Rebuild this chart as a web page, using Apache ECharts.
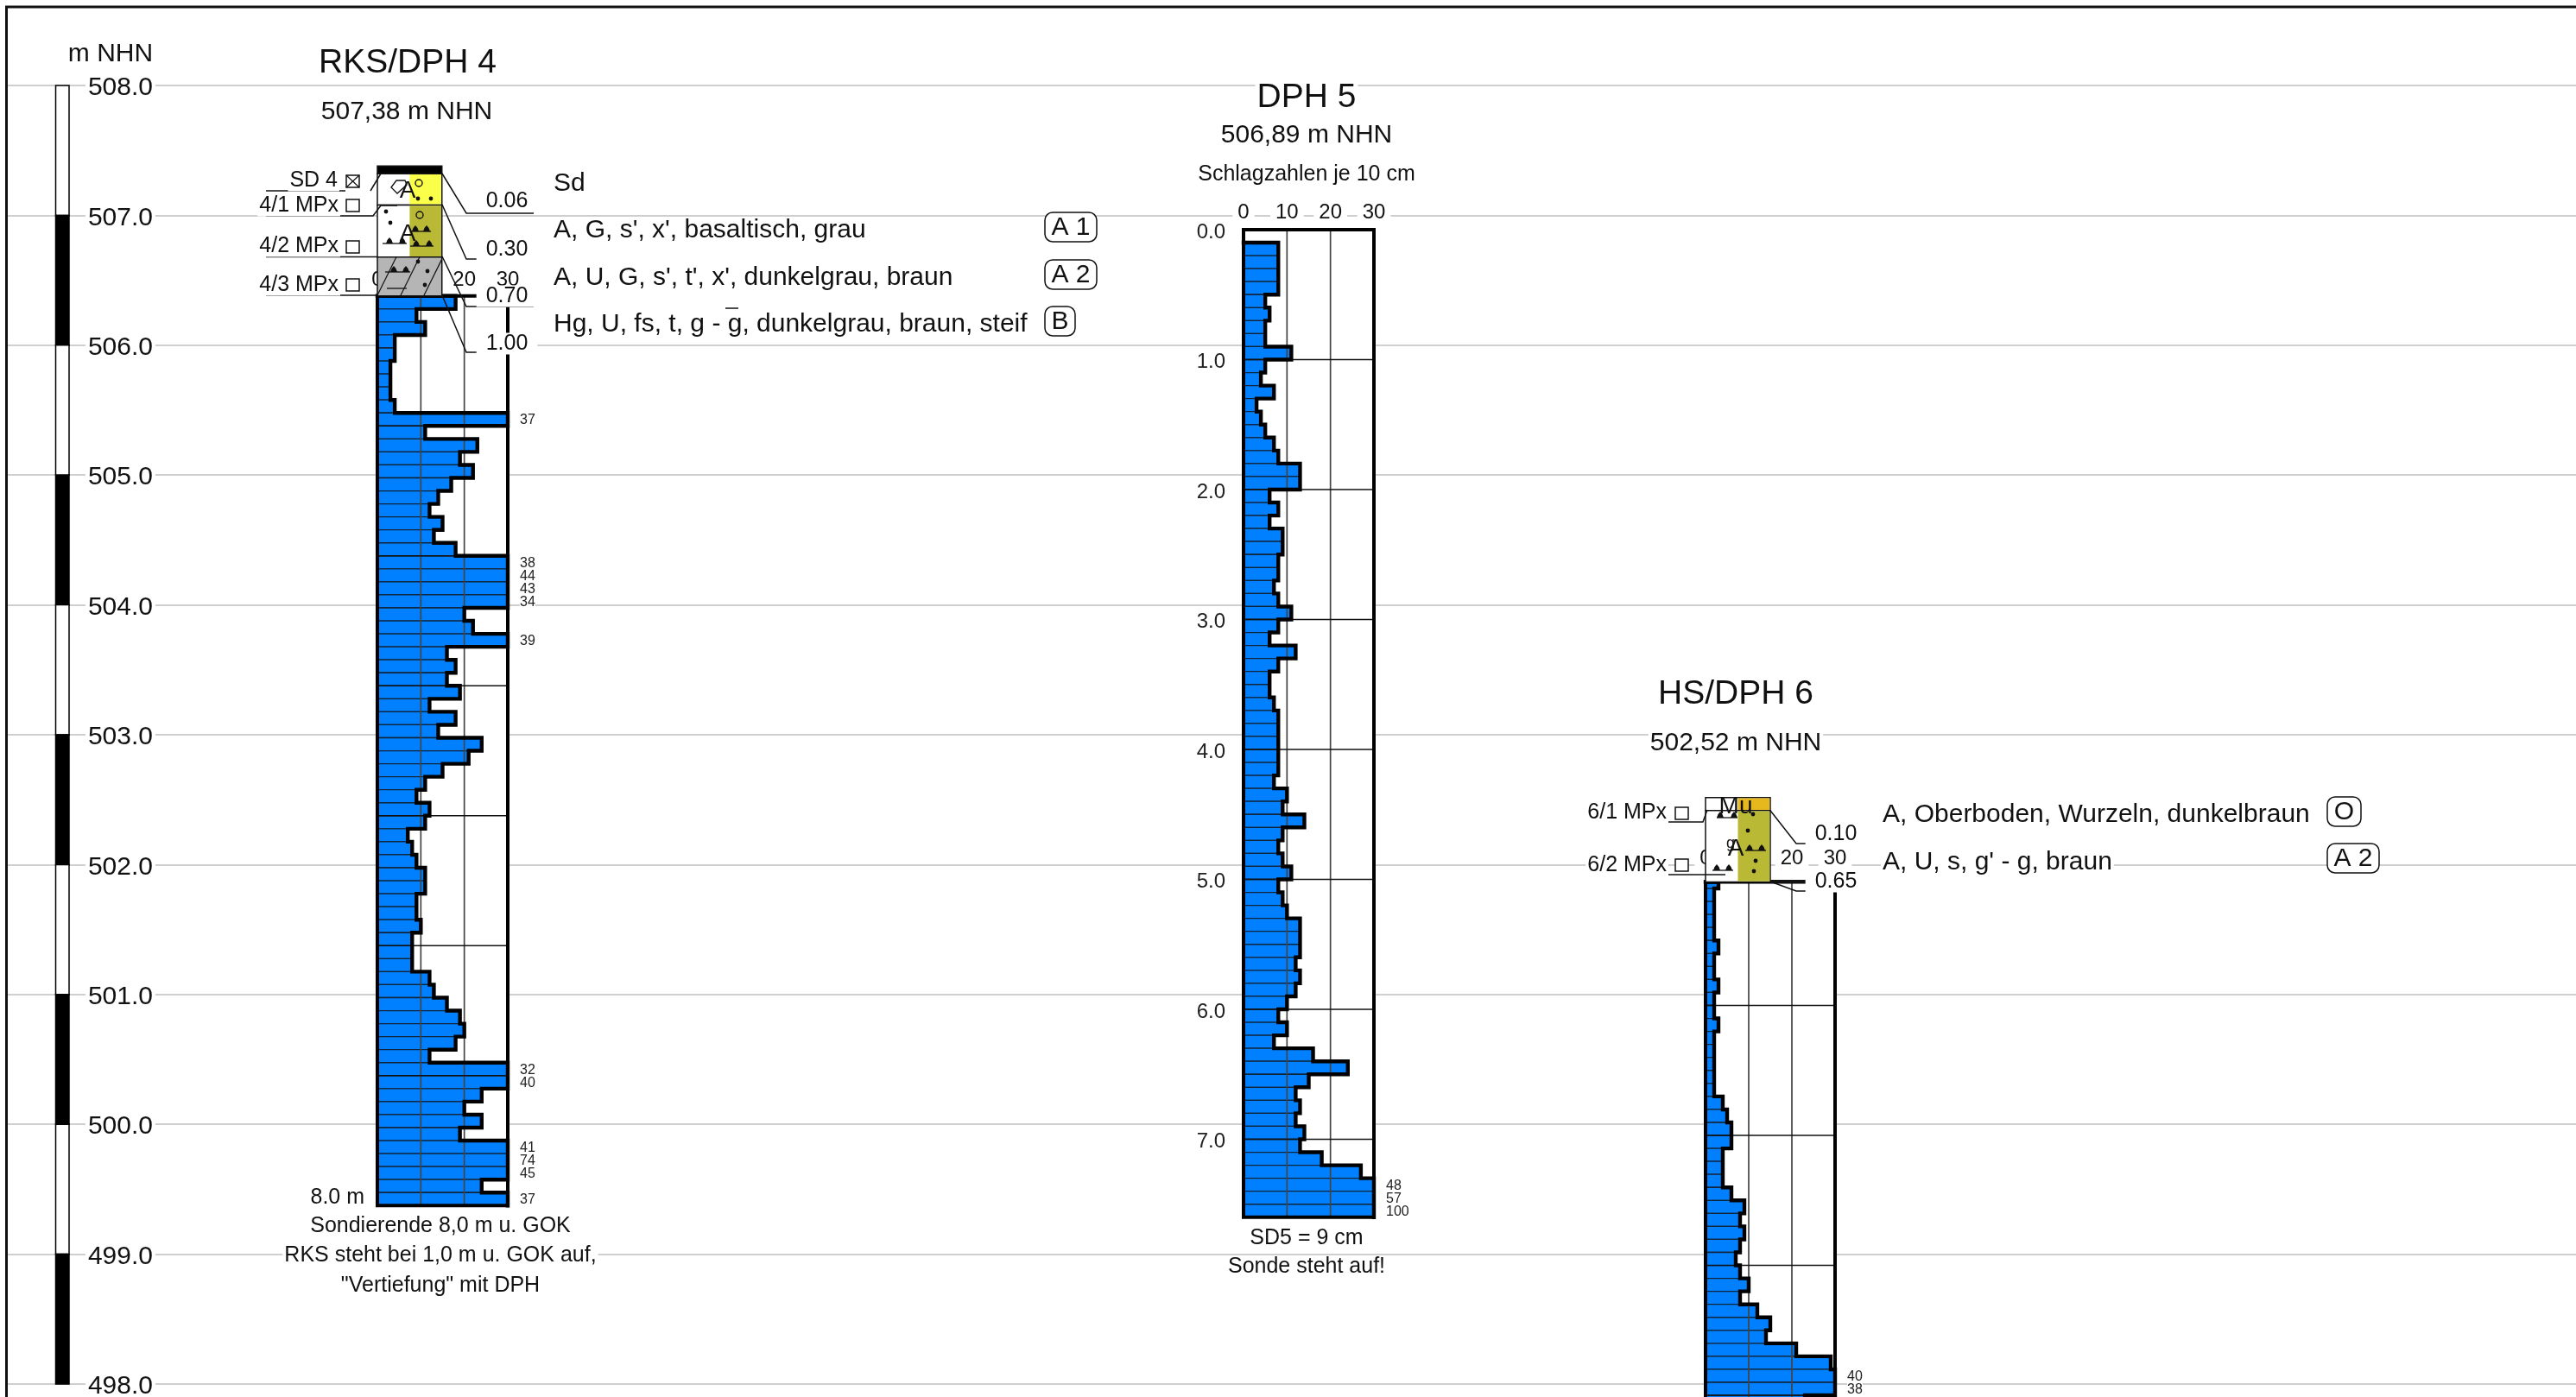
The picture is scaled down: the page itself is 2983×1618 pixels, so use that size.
<!DOCTYPE html>
<html><head><meta charset="utf-8">
<style>html,body{margin:0;padding:0;background:#fff}#c{width:2983px;height:1618px}</style>
<script src="https://cdn.jsdelivr.net/npm/echarts@6/dist/echarts.min.js"></script>
</head><body><div id="c"></div>
<script>
// ---- data ----
const elevationTicks = [508,507,506,505,504,503,502,501,500,499,498];
const blowTicks = [10,20];

const rksBlows = [18,9,11,4,4,3,3,3,4,37,11,23,19,22,17,14,12,15,13,18,38,44,43,34,20,22,39,16,18,16,19,12,18,14,24,21,15,11,9,12,11,7,8,9,11,11,9,9,10,8,8,8,12,13,16,19,20,18,12,32,40,24,20,24,19,41,74,45,24,37];
const dph5Blows = [8,8,8,8,5,6,5,5,11,5,4,7,3,4,5,7,8,13,13,6,8,6,9,9,8,8,7,8,11,8,6,12,8,6,6,7,8,8,8,8,8,7,10,9,14,9,8,9,11,8,9,10,13,13,13,12,13,12,10,8,10,7,16,24,15,12,13,12,14,13,18,27,48,57,100];
const dph6Blows = [3,2,2,2,2,3,2,2,3,2,2,3,2,2,2,2,2,4,5,6,6,4,4,4,6,9,8,9,8,7,8,10,8,12,15,14,21,29,40,38,23];

const rksDepthLines = [2,3,4,5,6,7];
const dph5DepthLines = [1,2,3,4,5,6,7];
const dph6DepthLines = [1.6,2.6,3.6,4.6];

const rksLayerDepths = [0,0.06,0.30,0.70,1.00];
const rksLayerColors = ['#000000','#faff4a','#b9b936','#b5b5b5'];
const rksLayerFull = [true,false,false,true];
const dph6LayerDepths = [0,0.10,0.65];
const dph6LayerColors = ['#e6b81e','#b9b936'];
const dph6LayerFull = [false,false];

// ---- profile settings ----
const FONT = '"Liberation Sans", Arial, sans-serif';
const profiles = [
 {blows:rksBlows, base:1.0, start:1.0, end:8.0, lines:rksDepthLines, grid:{left:437,width:151,top:192.3,height:1204}, max:8, axisOffset:-150,
  layers:rksLayerDepths, colors:rksLayerColors, full:rksLayerFull, colW:14.85},
 {blows:dph5Blows, base:0.1, start:0.0, end:7.6, lines:dph5DepthLines, grid:{left:1440,width:151,top:266,height:1143.8}, max:7.6, axisOffset:2, depthLabels:true},
 {blows:dph6Blows, base:0.6, start:0.65, end:4.7, lines:dph6DepthLines, grid:{left:1975,width:150,top:923.7,height:707.4}, max:4.7, axisOffset:-89,
  layers:dph6LayerDepths, colors:dph6LayerColors, full:dph6LayerFull, colW:15}
];

// ---- annotation helpers ----
const g = [];
const txt=(s,x,y,size,align='center',bg=true,z=8,padX=2)=>g.push({type:'text',z,silent:true,style:{text:s,x,y:y+2,font:`${size}px ${FONT}`,fill:'#111',align,verticalAlign:'middle',backgroundColor:bg?'#fff':'transparent',padding:bg?[0,padX]:0}});
const line=(pts,w=1.5,z=7)=>g.push({type:'polyline',z,silent:true,shape:{points:pts},style:{stroke:'#111',lineWidth:w,fill:null}});
const box=(x,y,w,h,r=0,z=7,fill='#fff')=>g.push({type:'rect',z,silent:true,shape:{x,y,width:w,height:h,r},style:{stroke:'#111',lineWidth:1.5,fill}});
const dot=(x,y,r=2.4)=>g.push({type:'circle',z:7,silent:true,shape:{cx:x,cy:y,r},style:{fill:'#111'}});
const ring=(x,y,r=4)=>g.push({type:'circle',z:7,silent:true,shape:{cx:x,cy:y,r},style:{fill:'none',stroke:'#111',lineWidth:1.4}});
const tri=(x,y)=>g.push({type:'polygon',z:7,silent:true,shape:{points:[[x-4,y],[x+4,y],[x+2.5,y-4],[x,y-7],[x-2.5,y-4]]},style:{fill:'#111'}});
const pebbles=(x0,x1,y,xs)=>{line([[x0,y],[x1,y]],1.3);xs.forEach(x=>tri(x,y));};
const badge=(s,x,y,w,h)=>{box(x,y,w,h,9);txt(s,x+w/2,y+h/2-1,30,'center',false,8);};

// frame of the sheet
line([[7.5,1618],[7.5,8],[2983,8]],3,9);
txt('m NHN',128,61,30,'center',false);

// RKS/DPH 4 heading + legend
txt('RKS/DPH 4',472,71,39);
txt('507,38 m NHN',471,128,30);
txt('Sd',639,211,30,'left');
txt("A, G, s', x', basaltisch, grau",639,265,30,'left');
txt("A, U, G, s', t', x', dunkelgrau, braun",639,320,30,'left');
txt("Hg, U, fs, t, g - g, dunkelgrau, braun, steif",639,374,30,'left');
line([[840,357],[855,357]],1.5,9);
badge('A 1',1210,246,60,34);
badge('A 2',1210,301,60,34);
badge('B',1210,355,35,34);
// RKS depth leaders
[[201,247,'0.06',232],[237,300,'0.30',288],[297,355,'0.70',342],[342,408,'1.00',397]].forEach(r=>{
  line([[512,r[0]],[540,r[1]],[618,r[1]]]);
  txt(r[2],587,r[3]-1,25,'center',true,8,11);
});
// RKS samples
line([[308,221],[400,221]]); line([[429,221],[441,201]]);
txt('SD 4',393,207,25,'right');
box(401,203,15,14); line([[401,203],[416,217]],1.2,8); line([[416,203],[401,217]],1.2,8);
line([[308,250],[432,250],[441,238],[460,238]]);
txt('4/1 MPx',394,236,25,'right');box(401,231,15,14);
line([[308,297.5],[437,297.5]]);
txt('4/2 MPx',394,283,25,'right');box(401,279,15,14);
line([[308,342],[437,342]]);
txt('4/3 MPx',394,328,25,'right');box(401,323,15,14);
// RKS column symbols
txt('A',472,219,28,'center',false);
txt('A',472,269,28,'center',false);
g.push({type:'polygon',z:7,silent:true,shape:{points:[[453,217],[459,209],[469,209],[471,214],[460,224]]},style:{fill:'none',stroke:'#111',lineWidth:1.3}});
ring(485,212); dot(484,230); dot(499,230);
dot(447,245); dot(452,258); ring(486,249);
pebbles(475,499,268,[481,494]); pebbles(475,502,285,[482,497]); pebbles(443,471,282,[451,466]);
pebbles(446,475,315,[456,470]); dot(484,303); dot(495,314); dot(492,330); line([[448,334],[471,334]],1.3);
// RKS hatch of the clay layer
for(let x=383;x<512;x+=27){
  const x0=437,x1=511.7,yb=342,yt=297.5,dx=22; let a=[x,yb],b=[x+dx,yt];
  if(a[0]<x0){a=[x0,yb+(x0-x)/dx*(yt-yb)];}
  if(b[0]>x1){b=[x1,yb+(x1-x)/dx*(yt-yb)];}
  if(a[0]<b[0]) line([a,b],1.2,6);
}
// RKS footer
txt('8.0 m',422,1385,25,'right',false);
txt('Sondierende 8,0 m u. GOK',510,1418,25);
txt('RKS steht bei 1,0 m u. GOK auf,',510,1452,25);
txt('"Vertiefung" mit DPH',510,1487,25);

// DPH 5 heading + footer
txt('DPH 5',1513,111,39);
txt('506,89 m NHN',1513,155,30);
txt('Schlagzahlen je 10 cm',1513,200,25);
txt('SD5 = 9 cm',1513,1432,25);
txt('Sonde steht auf!',1513,1465,25);

// HS/DPH 6 heading + legend
txt('HS/DPH 6',2010,802,39);
txt('502,52 m NHN',2010,859,30);
txt('A, Oberboden, Wurzeln, dunkelbraun',2178,942,30,'left');
txt("A, U, s, g' - g, braun",2178,997,30,'left');
badge('O',2695,923,39,34);
badge('A 2',2695,977,60,34);
[[938.7,977,'0.10',965],[1021,1032,'0.65',1020]].forEach(r=>{
  line([[2050,r[0]],[2080,r[1]],[2157,r[1]]]);
  txt(r[2],2126,r[3]-1,25,'center',true,8,11);
});
line([[1848,952],[1972,952],[1977,938]]);
txt('6/1 MPx',1932,939,25,'right');box(1940,935,15,14);
line([[1848,1013],[1998,1013]]);
txt('6/2 MPx',1932,1000,25,'right');box(1940,995,15,14);
// HS column symbols
txt('Mu',2010,932,28,'center',false);
txt('A',2010,981,28,'center',false);
txt('g',2004,975,18,'center',false);
pebbles(1988,2012,947,[1992,2008]); pebbles(2021,2045,985,[2026,2040]); pebbles(1983,2007,1008,[1988,2002]);
dot(2030,943);dot(2024,962);dot(2033,997);dot(2031,1009);
line([[2050,1021],[2096,1021]],4,6);

// ---- helpers that build series from the arrays ----
const topOf=(p,i)=>Math.max(p.start,p.base+i*0.1);
const botOf=(p,i)=>p.base+(i+1)*0.1;
const clip30=v=>Math.min(v,30);

const series=[];
// elevation scale and its bands
series.push({type:'custom',xAxisIndex:0,yAxisIndex:0,z:1,silent:true,animation:false,
  data:elevationTicks.slice(0,-1).map((t,i)=>[t,elevationTicks[i+1]]),
  renderItem(params,api){
    const y0=api.coord([0,api.value(0)])[1],y1=api.coord([0,api.value(1)])[1];
    return {type:'rect',shape:{x:64.5,y:y0,width:15.5,height:y1-y0},
      style:{fill:params.dataIndex%2?'#000':'#fff',stroke:'#000',lineWidth:1.5}};
  }});
// elevation tick labels, sitting slightly under their grid lines
series.push({type:'custom',xAxisIndex:0,yAxisIndex:0,z:1,silent:true,animation:false,
  data:elevationTicks.map(t=>[t]),
  renderItem(_,api){
    const y=api.coord([0,api.value(0)])[1];
    return {type:'text',style:{text:api.value(0).toFixed(1),x:180,y:y+3,font:`30px ${FONT}`,fill:'#111',align:'right',verticalAlign:'middle',backgroundColor:'#fff',padding:[0,3]}};
  }});

profiles.forEach((p,k)=>{
  const ax=k+1;
  const frameTop=p.layers?p.start:0;
  // white mask of the drawing area
  series.push({type:'custom',xAxisIndex:ax,yAxisIndex:ax,z:1,silent:true,animation:false,data:[[0]],
    renderItem(_,api){
      const a=api.coord([0,frameTop]),b=api.coord([30,p.end]);
      return {type:'rect',shape:{x:a[0],y:a[1],width:b[0]-a[0],height:b[1]-a[1]},style:{fill:'#fff'}};
    }});
  // bars
  series.push({type:'custom',xAxisIndex:ax,yAxisIndex:ax,z:2,silent:true,animation:false,
    data:p.blows.map((v,i)=>[topOf(p,i),botOf(p,i),clip30(v)]),
    renderItem(_,api){
      const a=api.coord([0,api.value(0)]),b=api.coord([api.value(2),api.value(1)]);
      return {type:'rect',shape:{x:a[0],y:a[1],width:b[0]-a[0],height:b[1]-a[1]},
        style:{fill:'#0080ff',stroke:'#10243a',lineWidth:1.3}};
    }});
  // frame, blow lines and depth lines
  series.push({type:'custom',xAxisIndex:ax,yAxisIndex:ax,z:3,silent:true,animation:false,data:[[0]],
    renderItem(_,api){
      const kids=[];
      const a=api.coord([0,frameTop]),b=api.coord([30,p.end]);
      blowTicks.forEach(t=>{
        const x=api.coord([t,0])[0];
        kids.push({type:'line',shape:{x1:x,y1:a[1],x2:x,y2:b[1]},style:{stroke:'#444',lineWidth:1.7}});
      });
      p.lines.forEach(d=>{
        const y=api.coord([0,d])[1];
        kids.push({type:'line',shape:{x1:a[0],y1:y,x2:b[0],y2:y},style:{stroke:'#111',lineWidth:1.4}});
      });
      kids.push({type:'rect',shape:{x:a[0],y:a[1],width:b[0]-a[0],height:b[1]-a[1]},style:{fill:'none',stroke:'#000',lineWidth:4}});
      return {type:'group',children:kids};
    }});
  // thick stepped outline
  const pts=[];
  p.blows.forEach((v,i)=>{
    if(i===0) pts.push([0,topOf(p,0)]);
    pts.push([clip30(v),topOf(p,i)]);
    pts.push([clip30(v),botOf(p,i)]);
  });
  series.push({type:'line',xAxisIndex:ax,yAxisIndex:ax,z:4,silent:true,animation:false,clip:false,showSymbol:false,symbol:'none',
    data:pts,lineStyle:{color:'#000',width:4.4,join:'miter',cap:'square'}});
  // values above the axis range
  series.push({type:'custom',xAxisIndex:ax,yAxisIndex:ax,z:7,silent:true,animation:false,
    data:p.blows.map((v,i)=>[topOf(p,i),botOf(p,i),v]).filter(r=>r[2]>30),
    renderItem(_,api){
      const mid=(api.value(0)+api.value(1))/2,c=api.coord([30,mid]);
      return {type:'text',style:{text:String(api.value(2)),x:c[0]+14,y:c[1]+1,font:`16px ${FONT}`,fill:'#222',align:'left',verticalAlign:'middle',backgroundColor:'#fff'}};
    }});
  // depth labels of the free-standing DPH, just under their depth lines
  if(p.depthLabels){
    series.push({type:'custom',xAxisIndex:ax,yAxisIndex:ax,z:7,silent:true,animation:false,
      data:[0].concat(p.lines).map(d=>[d]),
      renderItem(_,api){
        const c=api.coord([0,api.value(0)]);
        return {type:'text',style:{text:api.value(0).toFixed(1),x:c[0]-21,y:c[1]+3,font:`24px ${FONT}`,fill:'#222',align:'right',verticalAlign:'middle'}};
      }});
  }
  // soil column
  if(p.layers){
    series.push({type:'custom',xAxisIndex:ax,yAxisIndex:ax,z:5,silent:true,animation:false,
      data:p.colors.map((c,i)=>[p.layers[i],p.layers[i+1],i]),
      renderItem(_,api){
        const i=api.value(2),a=api.coord([0,api.value(0)]),b=api.coord([p.colW,api.value(1)]);
        const mid=(a[0]+b[0])/2,kids=[];
        kids.push({type:'rect',shape:{x:a[0],y:a[1],width:b[0]-a[0],height:b[1]-a[1]},style:{fill:p.full[i]?p.colors[i]:'#fff',stroke:'#111',lineWidth:1.5}});
        if(!p.full[i]) kids.push({type:'rect',shape:{x:mid,y:a[1]+0.7,width:b[0]-mid-0.7,height:b[1]-a[1]-1.4},style:{fill:p.colors[i]}});
        return {type:'group',children:kids};
      }});
  }
});

const grids=[{left:8,right:0,top:99,height:1504,show:false,outerBoundsMode:'none'}].concat(profiles.map(p=>Object.assign({show:false,outerBoundsMode:'none'},p.grid)));
const xAxes=[{type:'value',gridIndex:0,min:0,max:1,show:false}].concat(profiles.map((p,k)=>({
  type:'value',gridIndex:k+1,position:'top',min:0,max:30,interval:10,offset:p.axisOffset,z:1,
  axisLine:{show:false},axisTick:{show:false},splitLine:{show:false},
  axisLabel:{show:true,margin:6,color:'#111',fontFamily:FONT,fontSize:24,backgroundColor:'#fff',padding:[0,6]}
})));
const yAxes=[{type:'value',gridIndex:0,min:498,max:508,interval:1,z:0,
  axisLine:{show:false},axisTick:{show:false},
  splitLine:{show:true,lineStyle:{color:'#cfcfcf',width:2}},
  axisLabel:{show:false}
}].concat(profiles.map((p,k)=>({
  type:'value',gridIndex:k+1,inverse:true,min:0,max:p.max,interval:1,z:1,
  axisLine:{show:false},axisTick:{show:false},splitLine:{show:false},axisLabel:{show:false}
})));

const chart=echarts.init(document.getElementById('c'),null,{renderer:'canvas'});
chart.setOption({animation:false,backgroundColor:'#fff',tooltip:{show:false},legend:{show:false},
  grid:grids,xAxis:xAxes,yAxis:yAxes,series,graphic:{elements:g}});
</script></body></html>
